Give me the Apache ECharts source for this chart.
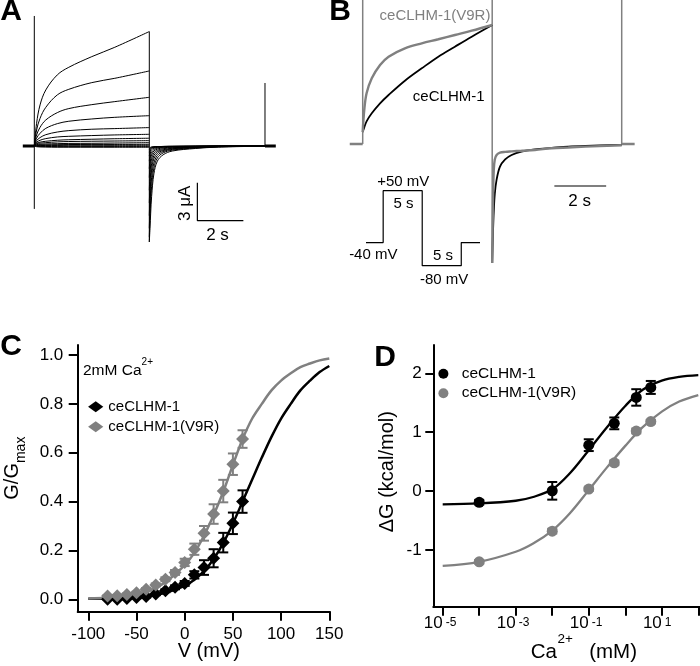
<!DOCTYPE html>
<html>
<head>
<meta charset="utf-8">
<script src="https://cdn.jsdelivr.net/npm/echarts@6/dist/echarts.min.js"></script>
<style>
  html, body { margin: 0; padding: 0; background: #fff; }
  #chart { width: 700px; height: 666px; }
</style>
</head>
<body>
<div id="chart"></div>
<script>
const FONT = '"Liberation Sans", Arial, Helvetica, sans-serif';
const GRAY = '#808080';

// ---- Panel A: current traces (time in s, current in uA)
const aStepTime = [0, 0.1, 0.25, 0.5, 1, 1.5, 2.5, 3.5, 5];
const aSteps = [
  [0, 1.79, 3.24, 4.42, 5.61, 6.21, 7.05, 7.79, 9.03],
  [0, 1.26, 2.18, 3.05, 4.03, 4.47, 5.0, 5.34, 5.92],
  [0, 0.87, 1.47, 2.05, 2.63, 2.95, 3.26, 3.5, 3.84],
  [0, 0.61, 1.0, 1.39, 1.76, 1.95, 2.13, 2.26, 2.39],
  [0, 0.42, 0.66, 0.89, 1.1, 1.21, 1.32, 1.37, 1.45],
  [0, 0.29, 0.45, 0.58, 0.71, 0.76, 0.82, 0.87, 0.92],
  [0, 0.21, 0.3, 0.37, 0.45, 0.49, 0.53, 0.57, 0.61],
  [0, 0.16, 0.22, 0.26, 0.32, 0.35, 0.37, 0.39, 0.42],
  [0, 0.1, 0.13, 0.16, 0.18, 0.2, 0.21, 0.23, 0.26],
  [0, 0.06, 0.08, 0.09, 0.1, 0.11, 0.12, 0.12, 0.13],
  [0, 0.03, 0.03, 0.04, 0.04, 0.05, 0.05, 0.05, 0.05],
  [0, -0.03, -0.04, -0.04, -0.05, -0.05, -0.05, -0.05, -0.05],
  [0, -0.06, -0.08, -0.09, -0.1, -0.1, -0.1, -0.1, -0.1]
];
const aTailTime = [5, 5.03, 5.06, 5.1, 5.2, 5.35, 5.6, 6, 7, 8, 10.03];
const aTails = [
  [-7.58, -6.5, -5.3, -4.0, -2.2, -1.2, -0.7, -0.4, -0.2, -0.09, -0.02],
  [-7.2, -5.6, -4.3, -3.2, -1.75, -0.95, -0.55, -0.33, -0.16, -0.07, -0.02],
  [-6.5, -4.8, -3.5, -2.5, -1.35, -0.75, -0.45, -0.27, -0.13, -0.06, -0.01],
  [-5.5, -3.9, -2.8, -1.9, -1.0, -0.58, -0.37, -0.22, -0.11, -0.05, -0.01],
  [-4.5, -3.0, -2.1, -1.4, -0.75, -0.45, -0.3, -0.18, -0.09, -0.04, 0],
  [-3.5, -2.2, -1.5, -1.0, -0.55, -0.35, -0.22, -0.14, -0.07, -0.03, 0],
  [-2.5, -1.5, -1.0, -0.7, -0.4, -0.25, -0.15, -0.1, -0.05, -0.02, 0],
  [-1.8, -1.0, -0.7, -0.5, -0.28, -0.17, -0.1, -0.07, -0.04, -0.02, 0],
  [-1.2, -0.7, -0.45, -0.3, -0.18, -0.11, -0.07, -0.05, -0.03, -0.01, 0],
  [-0.8, -0.45, -0.3, -0.2, -0.12, -0.08, -0.05, -0.04, -0.02, -0.01, 0],
  [-0.5, -0.3, -0.2, -0.14, -0.09, -0.06, -0.04, -0.03, -0.02, -0.01, 0],
  [-0.3, -0.2, -0.15, -0.1, -0.07, -0.05, -0.04, -0.03, -0.02, -0.01, 0],
  [-0.2, -0.15, -0.1, -0.08, -0.06, -0.05, -0.04, -0.03, -0.02, -0.01, 0]
];
const aBaseSegments = [[-0.5, 0], [10.03, 10.5]];
const aSpikeTime = [0, 5, 10.03];
const aSpikeLow = [-4.97, -7.58, 0];
const aSpikeHigh = [10.26, 9.03, 4.97];
const aBarTime = [7.09, 7.09, 9.09];
const aBarCurrent = [-2.9, -5.9, -5.9];

// ---- Panel B: normalised currents at +50 mV
const bStepTime = [0, 0.06, 0.15, 0.35, 0.67, 1.0, 1.63, 2.28, 2.92, 3.56, 4.21, 5.0];
const bStepV9R = [0.1, 0.286, 0.426, 0.552, 0.664, 0.734, 0.804, 0.846, 0.88, 0.916, 0.952, 1.0];
const bStepWT = [0.1, 0.14, 0.19, 0.258, 0.342, 0.412, 0.532, 0.636, 0.734, 0.818, 0.902, 1.0];
const bTailTime = [5, 5.03, 5.06, 5.1, 5.17, 5.3, 5.5, 5.75, 6.13, 6.65, 7.3, 7.93, 8.6, 10];
const bTailWT = [-1.0, -0.75, -0.57, -0.42, -0.30, -0.19, -0.129, -0.092, -0.064, -0.045, -0.033, -0.022, -0.016, -0.008];
const bTailV9R = [-1.0, -0.5, -0.22, -0.13, -0.092, -0.073, -0.066, -0.062, -0.057, -0.05, -0.036, -0.029, -0.022, -0.011];
const bBaseSegments = [[-0.5, 0], [10, 10.5]];
const bSpikeTime = [0, 5, 10];
const bSpikeLow = [0, -1.0, 0];
const bSpikeHigh = [1.21, 1.21, 1.21];
const bBarTime = [7.4, 9.4];
const bBarLevel = [-0.353, -0.353];

// voltage protocol (s, mV)
const protoTime = [-2.2, 0, 0, 5, 5, 10, 10, 12.4];
const protoVolt = [-40, -40, 50, 50, -80, -80, -40, -40];

// ---- Panel C: G/Gmax vs V
const cV = [-80, -70, -60, -50, -40, -30, -20, -10, 0, 10, 20, 30, 40, 50, 60];
const cWT = [0.0, 0.0, 0.003, 0.007, 0.011, 0.022, 0.035, 0.049, 0.065, 0.10, 0.13, 0.168, 0.232, 0.311, 0.40];
const cWTErr = [0, 0, 0.002, 0.003, 0.004, 0.005, 0.006, 0.008, 0.01, 0.015, 0.03, 0.037, 0.04, 0.044, 0.046];
const cV9R = [0.014, 0.015, 0.02, 0.027, 0.041, 0.059, 0.082, 0.11, 0.151, 0.205, 0.27, 0.349, 0.443, 0.553, 0.656];
const cV9RErr = [0.003, 0.003, 0.004, 0.004, 0.005, 0.006, 0.008, 0.01, 0.015, 0.023, 0.03, 0.04, 0.046, 0.044, 0.036];
const cFitV = [-100, -80, -60, -40, -20, 0, 10, 20, 30, 40, 50, 60, 70, 80, 90, 100, 110, 120, 130, 140, 150];
const cFitWT = [0.002, 0.003, 0.006, 0.012, 0.027, 0.055, 0.08, 0.115, 0.165, 0.23, 0.31, 0.40, 0.49, 0.58, 0.665, 0.74, 0.80, 0.855, 0.895, 0.93, 0.955];
const cFitV9R = [0.003, 0.006, 0.012, 0.03, 0.07, 0.14, 0.19, 0.26, 0.345, 0.44, 0.55, 0.655, 0.74, 0.80, 0.855, 0.895, 0.925, 0.95, 0.965, 0.978, 0.986];

// ---- Panel D: dG vs [Ca2+]
const dCa = [1e-4, 1e-2, 0.1, 0.5, 2, 5];
const dWT = [-0.19, 0.005, 0.78, 1.15, 1.59, 1.76];
const dWTErr = [0.04, 0.15, 0.1, 0.1, 0.14, 0.11];
const dV9R = [-1.2, -0.68, 0.034, 0.48, 1.02, 1.18];
const dV9RErr = [0.03, 0.04, 0.03, 0.04, 0.04, 0.03];
const dFitCa = [1e-5, 1e-4, 1e-3, 3e-3, 1e-2, 3e-2, 0.1, 0.3, 1, 3, 10, 30, 100];
const dFitWT = [-0.226, -0.21, -0.164, -0.10, 0.03, 0.30, 0.695, 1.068, 1.446, 1.72, 1.875, 1.94, 1.97];
const dFitV9R = [-1.27, -1.20, -1.03, -0.89, -0.67, -0.38, 0.017, 0.386, 0.768, 1.085, 1.35, 1.52, 1.63];

const zip = (xs, ys) => xs.map((x, i) => [x, ys[i]]);

function line(ai, data, color, width, extra) {
  return Object.assign({
    type: 'line', xAxisIndex: ai, yAxisIndex: ai, data: data,
    symbol: 'none', silent: true, clip: false,
    lineStyle: { color: color, width: width }
  }, extra || {});
}

// vertical segments (capacitive transients / step edges)
function vsegs(ai, times, lows, highs, color, width) {
  return {
    type: 'custom', xAxisIndex: ai, yAxisIndex: ai, silent: true,
    data: times.map((t, i) => [t, lows[i], highs[i]]),
    renderItem: function (params, api) {
      const p = api.coord([api.value(0), api.value(1)]);
      const q = api.coord([api.value(0), api.value(2)]);
      return { type: 'line', shape: { x1: p[0], y1: p[1], x2: q[0], y2: q[1] },
               style: { stroke: color, lineWidth: width } };
    }
  };
}

function errBars(ai, xs, ys, errs, color) {
  return {
    type: 'custom', xAxisIndex: ai, yAxisIndex: ai, silent: true, z: 3,
    data: xs.map((x, i) => [x, ys[i], errs[i]]),
    renderItem: function (params, api) {
      const x = api.value(0), y = api.value(1), e = api.value(2);
      const hi = api.coord([x, y + e]), lo = api.coord([x, y - e]);
      const w = 5;
      const st = { stroke: color, lineWidth: 2 };
      return { type: 'group', children: [
        { type: 'line', shape: { x1: hi[0], y1: hi[1], x2: lo[0], y2: lo[1] }, style: st },
        { type: 'line', shape: { x1: hi[0] - w, y1: hi[1], x2: hi[0] + w, y2: hi[1] }, style: st },
        { type: 'line', shape: { x1: lo[0] - w, y1: lo[1], x2: lo[0] + w, y2: lo[1] }, style: st }
      ] };
    }
  };
}

function scatter(ai, name, symbol, size, color, data) {
  return { type: 'scatter', name: name, xAxisIndex: ai, yAxisIndex: ai, symbol: symbol, clip: false,
    symbolSize: size, itemStyle: { color: color, opacity: 1 }, z: 4, silent: true, data: data };
}

const hidden = (gi, min, max) => ({ gridIndex: gi, type: 'value', min: min, max: max, show: false });
const frame = gi => ({
  gridIndex: gi, type: 'value', min: 0, max: 1,
  axisLine: { show: true, onZero: false, lineStyle: { color: '#000', width: 2 } },
  axisTick: { show: false }, axisLabel: { show: false }, splitLine: { show: false }
});
const tick = len => ({ show: true, length: len, lineStyle: { color: '#000', width: 2 } });
const noLine = { show: false, onZero: false };
const oddDecade = v => Math.round(Math.log10(v)) % 2 !== 0;

const series = [];

// A
aSteps.forEach(row => series.push(line(0, zip(aStepTime, row), '#000', 1, { smooth: 0.35 })));
aTails.forEach(row => series.push(line(0, zip(aTailTime, row), '#000', 1, { smooth: 0.35 })));
aBaseSegments.forEach(s => series.push(line(0, [[s[0], 0], [s[1], 0]], '#000', 3)));
series.push(vsegs(0, aSpikeTime, aSpikeLow, aSpikeHigh, '#000', 1));
series.push(line(0, zip(aBarTime, aBarCurrent), '#000', 1.2));

// B
bBaseSegments.forEach(s => series.push(line(1, [[s[0], 0], [s[1], 0]], GRAY, 2.5)));
series.push(vsegs(1, bSpikeTime, bSpikeLow, bSpikeHigh, GRAY, 1.5));
series.push(line(1, zip(bStepTime, bStepWT), '#000', 1.8, { smooth: 0.35 }));
series.push(line(1, zip(bTailTime, bTailWT), '#000', 1.8, { smooth: 0.35 }));
series.push(line(1, zip(bStepTime, bStepV9R), GRAY, 2.4, { smooth: 0.35 }));
series.push(line(1, zip(bTailTime, bTailV9R), GRAY, 2.4, { smooth: 0.35 }));
series.push(line(1, zip(bBarTime, bBarLevel), '#000', 1.2));
series.push(line(2, zip(protoTime, protoVolt), '#000', 1.2));

// C
series.push(line(4, zip(cFitV, cFitWT), '#000', 2.5, { smooth: 0.35, z: 1 }));
series.push(line(4, zip(cFitV, cFitV9R), GRAY, 2.5, { smooth: 0.35, z: 1 }));
series.push(errBars(4, cV, cWT, cWTErr, '#000'));
series.push(errBars(4, cV, cV9R, cV9RErr, GRAY));
series.push(scatter(4, 'ceCLHM-1', 'diamond', 13, '#000', zip(cV, cWT)));
series.push(scatter(4, 'ceCLHM-1(V9R)', 'diamond', 13, GRAY, zip(cV, cV9R)));

// D
series.push(line(6, zip(dFitCa, dFitWT), '#000', 2.3, { smooth: 0.35, z: 1 }));
series.push(line(6, zip(dFitCa, dFitV9R), GRAY, 2.3, { smooth: 0.35, z: 1 }));
series.push(errBars(6, dCa, dWT, dWTErr, '#000'));
series.push(errBars(6, dCa, dV9R, dV9RErr, GRAY));
series.push(scatter(6, 'ceCLHM-1', 'circle', 11, '#000', zip(dCa, dWT)));
series.push(scatter(6, 'ceCLHM-1(V9R)', 'circle', 11, GRAY, zip(dCa, dV9R)));

function txt(x, y, text, size, opts) {
  return Object.assign({
    type: 'text', x: x, y: y, silent: true,
    style: Object.assign({
      text: text, fontSize: size, fontFamily: FONT, fill: '#000',
      textAlign: 'center', textVerticalAlign: 'middle', align: 'center', verticalAlign: 'middle'
    }, (opts && opts.style) || {})
  }, (opts && opts.el) || {});
}
const letter = (x, y, t) => txt(x, y, t, 30, { style: { fontWeight: 'bold' } });
const sup = (size, lh) => ({ fontSize: size, lineHeight: lh, verticalAlign: 'top', fill: '#000', fontFamily: FONT });
const leftAt = { textAlign: 'left', align: 'left' };
const rightAt = { textAlign: 'right', align: 'right' };

const chart = echarts.init(document.getElementById('chart'), null, { renderer: 'canvas' });
chart.setOption({
  animation: false,
  backgroundColor: '#fff',
  textStyle: { fontFamily: FONT, color: '#000' },
  grid: [
    { left: 22.8, top: 6.6, width: 253, height: 240.7, outerBoundsMode: 'none' },
    { left: 349.75, top: 0, width: 284.9, height: 274.9, outerBoundsMode: 'none' },
    { left: 366, top: 190.7, width: 114, height: 75, outerBoundsMode: 'none' },
    { left: 77.7, top: 345, width: 252.3, height: 266.7, outerBoundsMode: 'none' },
    { left: 88.3, top: 355, width: 241, height: 244.3, outerBoundsMode: 'none' },
    { left: 433.3, top: 345, width: 266.7, height: 261.7, outerBoundsMode: 'none' },
    { left: 442.7, top: 373.3, width: 255.6, height: 176.7, outerBoundsMode: 'none' }
  ],
  xAxis: [
    hidden(0, -0.5, 10.5),
    hidden(1, -0.5, 10.5),
    hidden(2, -2.2, 12.4),
    frame(3),
    {
      gridIndex: 4, type: 'value', min: -100, max: 150, interval: 50, position: 'bottom', offset: 12.4,
      axisLine: noLine, axisTick: tick(9), splitLine: { show: false },
      axisLabel: { color: '#000', fontSize: 17, margin: 13, lineHeight: 20 },
      name: 'V (mV)', nameLocation: 'middle', nameGap: 29, nameMoveOverlap: false,
      nameTextStyle: { fontSize: 20, lineHeight: 22, color: '#000' }
    },
    frame(5),
    {
      // decade ticks with the "10" of each odd-power label
      gridIndex: 6, type: 'log', logBase: 10, min: 1e-5, max: 100, position: 'bottom', offset: 56.7,
      axisLine: noLine, axisTick: tick(9), splitLine: { show: false }, minorTick: { show: false },
      axisLabel: { color: '#000', fontSize: 17, lineHeight: 20, margin: 6.7, align: 'right',
        formatter: v => oddDecade(v) ? '10' : '' }
    },
    {
      // exponents of the same labels, set as superscripts
      gridIndex: 6, type: 'log', logBase: 10, min: 1e-5, max: 100, position: 'bottom', offset: 56.7,
      axisLine: noLine, axisTick: { show: false }, splitLine: { show: false }, minorTick: { show: false },
      axisLabel: { color: '#000', fontSize: 12, lineHeight: 14, margin: 8.6, align: 'left', padding: [0, 0, 0, 3],
        formatter: v => oddDecade(v) ? String(Math.round(Math.log10(v))) : '' }
    }
  ],
  yAxis: [
    hidden(0, -8, 11),
    hidden(1, -1.1, 1.21),
    hidden(2, -80, 50),
    frame(3),
    {
      gridIndex: 4, type: 'value', min: 0, max: 1, interval: 0.2, position: 'left', offset: 10.6,
      axisLine: noLine, axisTick: tick(9), splitLine: { show: false },
      axisLabel: { color: '#000', fontSize: 17, margin: 14.4, formatter: v => v.toFixed(1) },
      name: 'G/G{sub|max}', nameLocation: 'middle', nameGap: 50, nameMoveOverlap: false,
      nameTextStyle: { fontSize: 20, lineHeight: 30, color: '#000', padding: [0, 0, 0, 18],
        rich: { sub: { fontSize: 14, lineHeight: 14, verticalAlign: 'bottom', color: '#000', fontFamily: FONT } } }
    },
    frame(5),
    {
      gridIndex: 6, type: 'value', min: -1, max: 2, interval: 1, position: 'left', offset: 9.4,
      axisLine: noLine, axisTick: tick(8), splitLine: { show: false },
      axisLabel: { color: '#000', fontSize: 17, margin: 11.6 }
    }
  ],
  legend: [
    {
      left: 88.1, top: 399.2, orient: 'vertical', padding: 0, itemGap: 5, itemWidth: 15.2, itemHeight: 11,
      selectedMode: false, textStyle: { fontSize: 15, lineHeight: 15, color: '#000' },
      data: [{ name: 'ceCLHM-1', icon: 'diamond' }, { name: 'ceCLHM-1(V9R)', icon: 'diamond' }]
    },
    {
      left: 438.4, top: 365.8, orient: 'vertical', padding: 0, itemGap: 3.4, itemWidth: 26.6, itemHeight: 10,
      selectedMode: false, textStyle: { fontSize: 15.5, lineHeight: 15, color: '#000' },
      data: [{ name: 'ceCLHM-1', icon: 'circle' }, { name: 'ceCLHM-1(V9R)', icon: 'circle' }]
    }
  ],
  graphic: [
    letter(11, 11.5, 'A'),
    letter(340, 12, 'B'),
    letter(11, 346.5, 'C'),
    letter(385, 357.5, 'D'),
    txt(185, 203.3, '3 \u03bcA', 17, { el: { rotation: Math.PI / 2 } }),
    txt(217.5, 235, '2 s', 17),
    txt(579.7, 201.5, '2 s', 17),
    txt(435, 15.5, 'ceCLHM-1(V9R)', 15, { style: { fill: GRAY } }),
    txt(448.7, 96.5, 'ceCLHM-1', 15),
    txt(403.3, 181.7, '+50 mV', 15),
    txt(403.5, 204.3, '5 s', 15),
    txt(373.3, 255, '-40 mV', 15),
    txt(443, 255.8, '5 s', 15),
    txt(444.2, 279.5, '-80 mV', 15),
    txt(83, 371, '2mM Ca{s|2+}', 15.5, { style: Object.assign({ lineHeight: 28, rich: { s: sup(10, 12) } }, leftAt) }),
    // panel D axis titles
    txt(387.5, 471.7, '\u0394G (kcal/mol)', 20, { el: { rotation: Math.PI / 2 } }),
    txt(557, 652, 'Ca', 20.5, { style: rightAt }),
    txt(557.5, 639, '2+', 13.5, { style: leftAt }),
    txt(637, 652, '(mM)', 20.5, { style: rightAt })
  ],
  series: series
});
</script>
</body>
</html>
